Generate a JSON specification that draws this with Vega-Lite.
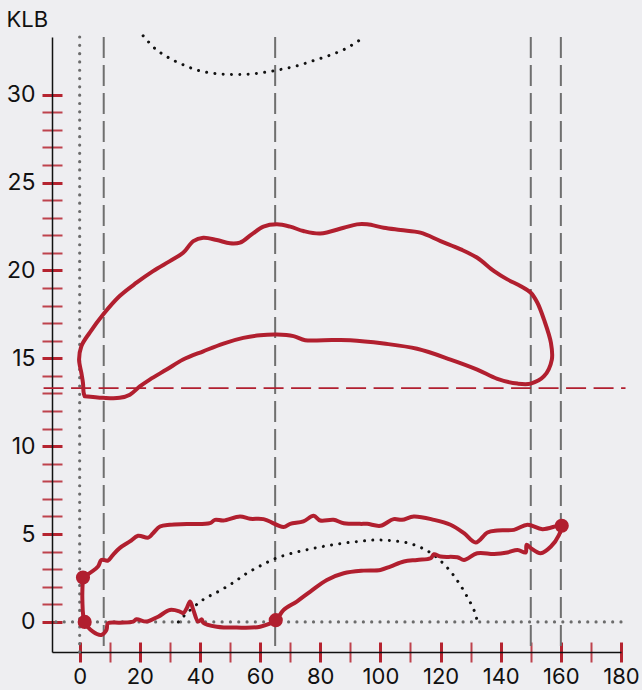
{
  "$schema": "https://vega.github.io/schema/vega-lite/v6.json",
  "width": 569,
  "height": 615,
  "autosize": {"type": "none"},
  "padding": {"left": 52, "top": 37, "right": 21, "bottom": 38},
  "background": "#eeeef1",
  "config": {"view": {"stroke": null}, "font": "Inter"},
  "datasets": {
    "vlines": [{"x": 8}, {"x": 65}, {"x": 150}, {"x": 160}],
    "zero": [{"v": 0}],
    "hline": [{"y": 13.3, "x1": -12, "x2": 181.5}],
    "dots": [
      {"s": "t", "i": 1, "x": 21.1, "y": 33.35}, {"s": "t", "i": 2, "x": 25.2, "y": 32.6}, {"s": "t", "i": 3, "x": 29.6, "y": 32.1},
      {"s": "t", "i": 4, "x": 34.4, "y": 31.7}, {"s": "t", "i": 5, "x": 39.8, "y": 31.36}, {"s": "t", "i": 6, "x": 45.2, "y": 31.2},
      {"s": "t", "i": 7, "x": 50.8, "y": 31.15}, {"s": "t", "i": 8, "x": 56.3, "y": 31.17}, {"s": "t", "i": 9, "x": 61.9, "y": 31.28},
      {"s": "t", "i": 10, "x": 67.3, "y": 31.45}, {"s": "t", "i": 11, "x": 72.7, "y": 31.66}, {"s": "t", "i": 12, "x": 78, "y": 31.95},
      {"s": "t", "i": 13, "x": 83.3, "y": 32.25}, {"s": "t", "i": 14, "x": 88.3, "y": 32.6}, {"s": "t", "i": 15, "x": 93.1, "y": 33.1},
      {"s": "b", "i": 1, "x": 32.8, "y": 0}, {"s": "b", "i": 2, "x": 35, "y": 0.4}, {"s": "b", "i": 3, "x": 41.1, "y": 1.27},
      {"s": "b", "i": 4, "x": 46.1, "y": 1.73}, {"s": "b", "i": 5, "x": 51.1, "y": 2.24}, {"s": "b", "i": 6, "x": 55.6, "y": 2.77},
      {"s": "b", "i": 7, "x": 60.6, "y": 3.24}, {"s": "b", "i": 8, "x": 65.2, "y": 3.62}, {"s": "b", "i": 9, "x": 70.6, "y": 3.91},
      {"s": "b", "i": 10, "x": 76.1, "y": 4.13}, {"s": "b", "i": 11, "x": 81.7, "y": 4.32}, {"s": "b", "i": 12, "x": 87.2, "y": 4.47},
      {"s": "b", "i": 13, "x": 92.8, "y": 4.58}, {"s": "b", "i": 14, "x": 97.8, "y": 4.66}, {"s": "b", "i": 15, "x": 103.3, "y": 4.63},
      {"s": "b", "i": 16, "x": 108.9, "y": 4.5}, {"s": "b", "i": 17, "x": 113.9, "y": 4.2}, {"s": "b", "i": 18, "x": 118.3, "y": 3.73},
      {"s": "b", "i": 19, "x": 122.8, "y": 2.98}, {"s": "b", "i": 20, "x": 126.1, "y": 2.22}, {"s": "b", "i": 21, "x": 128.9, "y": 1.42},
      {"s": "b", "i": 22, "x": 131.3, "y": 0.6}, {"s": "b", "i": 23, "x": 132.2, "y": 0.05}
    ],
    "loops": [
      {"s": "u", "i": 1, "x": 1.67, "y": 12.84}, {"s": "u", "i": 2, "x": 7.8, "y": 12.75}, {"s": "u", "i": 3, "x": 13.3, "y": 12.75},
      {"s": "u", "i": 4, "x": 16.7, "y": 12.93}, {"s": "u", "i": 5, "x": 20, "y": 13.4}, {"s": "u", "i": 6, "x": 23.3, "y": 13.79},
      {"s": "u", "i": 7, "x": 28.9, "y": 14.36}, {"s": "u", "i": 8, "x": 34.4, "y": 14.93}, {"s": "u", "i": 9, "x": 41.1, "y": 15.4},
      {"s": "u", "i": 10, "x": 47.8, "y": 15.84}, {"s": "u", "i": 11, "x": 54.4, "y": 16.16}, {"s": "u", "i": 12, "x": 60, "y": 16.31},
      {"s": "u", "i": 13, "x": 65.6, "y": 16.35}, {"s": "u", "i": 14, "x": 71.1, "y": 16.26}, {"s": "u", "i": 15, "x": 75, "y": 16.03},
      {"s": "u", "i": 16, "x": 81.1, "y": 16.03}, {"s": "u", "i": 17, "x": 90, "y": 16.03}, {"s": "u", "i": 18, "x": 101.1, "y": 15.84},
      {"s": "u", "i": 19, "x": 112.2, "y": 15.54}, {"s": "u", "i": 20, "x": 123.3, "y": 14.93}, {"s": "u", "i": 21, "x": 132.2, "y": 14.36},
      {"s": "u", "i": 22, "x": 138.9, "y": 13.83}, {"s": "u", "i": 23, "x": 145.6, "y": 13.56}, {"s": "u", "i": 24, "x": 150, "y": 13.56},
      {"s": "u", "i": 25, "x": 154.4, "y": 13.98}, {"s": "u", "i": 26, "x": 157, "y": 14.93}, {"s": "u", "i": 27, "x": 156.7, "y": 15.88},
      {"s": "u", "i": 28, "x": 154.4, "y": 17.2}, {"s": "u", "i": 29, "x": 152.2, "y": 18.16}, {"s": "u", "i": 30, "x": 150, "y": 18.73},
      {"s": "u", "i": 31, "x": 146.7, "y": 19.1}, {"s": "u", "i": 32, "x": 142.2, "y": 19.49}, {"s": "u", "i": 33, "x": 137.8, "y": 19.96},
      {"s": "u", "i": 34, "x": 132.2, "y": 20.72}, {"s": "u", "i": 35, "x": 126.7, "y": 21.2}, {"s": "u", "i": 36, "x": 120, "y": 21.67},
      {"s": "u", "i": 37, "x": 113.3, "y": 22.15}, {"s": "u", "i": 38, "x": 106.7, "y": 22.3}, {"s": "u", "i": 39, "x": 101.1, "y": 22.43},
      {"s": "u", "i": 40, "x": 95.6, "y": 22.62}, {"s": "u", "i": 41, "x": 92.2, "y": 22.62}, {"s": "u", "i": 42, "x": 87.8, "y": 22.43},
      {"s": "u", "i": 43, "x": 80, "y": 22.1}, {"s": "u", "i": 44, "x": 74.4, "y": 22.24}, {"s": "u", "i": 45, "x": 70, "y": 22.49},
      {"s": "u", "i": 46, "x": 65.6, "y": 22.62}, {"s": "u", "i": 47, "x": 61.1, "y": 22.49}, {"s": "u", "i": 48, "x": 57.2, "y": 22.05},
      {"s": "u", "i": 49, "x": 53.3, "y": 21.58}, {"s": "u", "i": 50, "x": 50, "y": 21.54}, {"s": "u", "i": 51, "x": 45.6, "y": 21.73},
      {"s": "u", "i": 52, "x": 41.1, "y": 21.86}, {"s": "u", "i": 53, "x": 37.8, "y": 21.67}, {"s": "u", "i": 54, "x": 34.4, "y": 21.0},
      {"s": "u", "i": 55, "x": 30, "y": 20.53}, {"s": "u", "i": 56, "x": 24.4, "y": 19.96}, {"s": "u", "i": 57, "x": 18.9, "y": 19.3},
      {"s": "u", "i": 58, "x": 13.3, "y": 18.54}, {"s": "u", "i": 59, "x": 7.8, "y": 17.49}, {"s": "u", "i": 60, "x": 3.3, "y": 16.45},
      {"s": "u", "i": 61, "x": 0.56, "y": 15.69}, {"s": "u", "i": 62, "x": -0.2, "y": 14.93}, {"s": "u", "i": 63, "x": 0.56, "y": 14.17},
      {"s": "u", "i": 64, "x": 1.1, "y": 13.6}, {"s": "u", "i": 65, "x": 1.33, "y": 13.03}, {"s": "u", "i": 66, "x": 1.67, "y": 12.84},

      {"s": "l", "i": 1, "x": 1.1, "y": 2.53}, {"s": "l", "i": 2, "x": 6.1, "y": 3.15}, {"s": "l", "i": 3, "x": 7.2, "y": 3.53},
      {"s": "l", "i": 4, "x": 9.4, "y": 3.49}, {"s": "l", "i": 5, "x": 11.1, "y": 3.82}, {"s": "l", "i": 6, "x": 13.3, "y": 4.2},
      {"s": "l", "i": 7, "x": 16.7, "y": 4.58}, {"s": "l", "i": 8, "x": 19.4, "y": 4.9}, {"s": "l", "i": 9, "x": 22.8, "y": 4.8},
      {"s": "l", "i": 10, "x": 24.4, "y": 5.05}, {"s": "l", "i": 11, "x": 26.7, "y": 5.43}, {"s": "l", "i": 12, "x": 30, "y": 5.53},
      {"s": "l", "i": 13, "x": 35.6, "y": 5.57}, {"s": "l", "i": 14, "x": 43.3, "y": 5.62}, {"s": "l", "i": 15, "x": 45, "y": 5.81},
      {"s": "l", "i": 16, "x": 47.8, "y": 5.77}, {"s": "l", "i": 17, "x": 53.3, "y": 6.0}, {"s": "l", "i": 18, "x": 56.7, "y": 5.87},
      {"s": "l", "i": 19, "x": 61.1, "y": 5.85}, {"s": "l", "i": 20, "x": 67.8, "y": 5.4}, {"s": "l", "i": 21, "x": 70, "y": 5.58},
      {"s": "l", "i": 22, "x": 74.4, "y": 5.72}, {"s": "l", "i": 23, "x": 77.8, "y": 6.04}, {"s": "l", "i": 24, "x": 80, "y": 5.77},
      {"s": "l", "i": 25, "x": 84.4, "y": 5.81}, {"s": "l", "i": 26, "x": 87.8, "y": 5.62}, {"s": "l", "i": 27, "x": 93.3, "y": 5.58},
      {"s": "l", "i": 28, "x": 95.6, "y": 5.58}, {"s": "l", "i": 29, "x": 100, "y": 5.47}, {"s": "l", "i": 30, "x": 104.4, "y": 5.85},
      {"s": "l", "i": 31, "x": 107.2, "y": 5.81}, {"s": "l", "i": 32, "x": 111.1, "y": 6.0}, {"s": "l", "i": 33, "x": 117.8, "y": 5.81},
      {"s": "l", "i": 34, "x": 123.3, "y": 5.53}, {"s": "l", "i": 35, "x": 127.8, "y": 5.05}, {"s": "l", "i": 36, "x": 131.7, "y": 4.52},
      {"s": "l", "i": 37, "x": 135.6, "y": 5.09}, {"s": "l", "i": 38, "x": 138.9, "y": 5.2}, {"s": "l", "i": 39, "x": 144.4, "y": 5.24},
      {"s": "l", "i": 40, "x": 148.9, "y": 5.53}, {"s": "l", "i": 41, "x": 153.9, "y": 5.28}, {"s": "l", "i": 42, "x": 160.3, "y": 5.47},
      {"s": "l", "i": 43, "x": 159.4, "y": 4.96}, {"s": "l", "i": 44, "x": 156.7, "y": 4.29}, {"s": "l", "i": 45, "x": 153.3, "y": 3.91},
      {"s": "l", "i": 46, "x": 150, "y": 4.2}, {"s": "l", "i": 47, "x": 148.6, "y": 4.39}, {"s": "l", "i": 48, "x": 148.3, "y": 3.95},
      {"s": "l", "i": 49, "x": 145.6, "y": 4.1}, {"s": "l", "i": 50, "x": 142.2, "y": 3.95}, {"s": "l", "i": 51, "x": 137.8, "y": 3.87},
      {"s": "l", "i": 52, "x": 132.2, "y": 3.91}, {"s": "l", "i": 53, "x": 127.8, "y": 3.53}, {"s": "l", "i": 54, "x": 125.6, "y": 3.68},
      {"s": "l", "i": 55, "x": 120, "y": 3.72}, {"s": "l", "i": 56, "x": 117.8, "y": 3.85}, {"s": "l", "i": 57, "x": 116.7, "y": 3.62},
      {"s": "l", "i": 58, "x": 112.2, "y": 3.53}, {"s": "l", "i": 59, "x": 107.8, "y": 3.44}, {"s": "l", "i": 60, "x": 103.3, "y": 3.15},
      {"s": "l", "i": 61, "x": 100, "y": 2.96}, {"s": "l", "i": 62, "x": 94.4, "y": 2.92}, {"s": "l", "i": 63, "x": 87.8, "y": 2.77},
      {"s": "l", "i": 64, "x": 82.2, "y": 2.39}, {"s": "l", "i": 65, "x": 76.7, "y": 1.73}, {"s": "l", "i": 66, "x": 72.2, "y": 1.16},
      {"s": "l", "i": 67, "x": 67.8, "y": 0.68}, {"s": "l", "i": 68, "x": 65.2, "y": 0.1}, {"s": "l", "i": 69, "x": 60, "y": -0.27},
      {"s": "l", "i": 70, "x": 52.2, "y": -0.32}, {"s": "l", "i": 71, "x": 45.6, "y": -0.27}, {"s": "l", "i": 72, "x": 41.1, "y": -0.04},
      {"s": "l", "i": 73, "x": 40.6, "y": 0.15}, {"s": "l", "i": 74, "x": 39.4, "y": 0.02}, {"s": "l", "i": 75, "x": 37.8, "y": 0.68},
      {"s": "l", "i": 76, "x": 36.7, "y": 1.16}, {"s": "l", "i": 77, "x": 35.6, "y": 0.78}, {"s": "l", "i": 78, "x": 34.4, "y": 0.5},
      {"s": "l", "i": 79, "x": 33.3, "y": 0.59}, {"s": "l", "i": 80, "x": 30, "y": 0.68}, {"s": "l", "i": 81, "x": 26.1, "y": 0.3},
      {"s": "l", "i": 82, "x": 22.2, "y": 0.02}, {"s": "l", "i": 83, "x": 18.9, "y": 0.15}, {"s": "l", "i": 84, "x": 17.8, "y": 0.02},
      {"s": "l", "i": 85, "x": 13.3, "y": -0.04}, {"s": "l", "i": 86, "x": 9.4, "y": -0.08}, {"s": "l", "i": 87, "x": 8.9, "y": -0.46},
      {"s": "l", "i": 88, "x": 7.2, "y": -0.74}, {"s": "l", "i": 89, "x": 4.4, "y": -0.55}, {"s": "l", "i": 90, "x": 1.67, "y": 0},
      {"s": "l", "i": 91, "x": 0.9, "y": 1.25}, {"s": "l", "i": 92, "x": 1.1, "y": 2.53}
    ],
    "points": [{"x": 1.1, "y": 2.53}, {"x": 1.67, "y": 0}, {"x": 65.2, "y": 0.1}, {"x": 160.3, "y": 5.47}]
  },
  "layer": [
    {
      "data": {"name": "zero"},
      "mark": {"type": "rule", "color": "#6c6c6c", "strokeWidth": 3.2, "strokeDash": [0.01, 8.3], "strokeCap": "round"},
      "encoding": {"x": {"field": "v", "type": "quantitative", "scale": {"domain": [-9.2, 180], "nice": false, "zero": false}, "axis": null}}
    },
    {
      "data": {"name": "zero"},
      "mark": {"type": "rule", "color": "#6c6c6c", "strokeWidth": 3.2, "strokeDash": [0.01, 8.3], "strokeCap": "round"},
      "encoding": {"y": {"field": "v", "type": "quantitative", "scale": {"domain": [-1.71, 33.28], "nice": false, "zero": false}, "axis": null}}
    },
    {
      "data": {"name": "vlines"},
      "mark": {"type": "rule", "color": "#6f6f6f", "strokeWidth": 2, "strokeDash": [21, 7]},
      "encoding": {"x": {"field": "x", "type": "quantitative", "axis": null}}
    },
    {
      "data": {"name": "hline"},
      "mark": {"type": "rule", "color": "#b11f2f", "strokeWidth": 1.8, "strokeDash": [20, 7.5]},
      "encoding": {
        "y": {"field": "y", "type": "quantitative", "axis": null},
        "x": {"field": "x1", "type": "quantitative", "axis": null},
        "x2": {"field": "x2"}
      }
    },
    {
      "data": {"name": "dots"},
      "mark": {"type": "line", "color": "#111111", "strokeWidth": 3, "strokeDash": [0.01, 8.3], "strokeCap": "round", "interpolate": "catmull-rom"},
      "encoding": {
        "x": {"field": "x", "type": "quantitative", "axis": null},
        "y": {"field": "y", "type": "quantitative", "axis": null},
        "detail": {"field": "s"},
        "order": {"field": "i", "type": "quantitative"}
      }
    },
    {
      "data": {"name": "loops"},
      "mark": {"type": "line", "color": "#b11f2f", "strokeWidth": 4, "strokeJoin": "round", "strokeCap": "round", "interpolate": "catmull-rom"},
      "encoding": {
        "x": {"field": "x", "type": "quantitative", "axis": {
          "orient": "bottom", "offset": -10, "domain": false, "grid": false, "title": null,
          "values": [0, 10, 20, 30, 40, 50, 60, 70, 80, 90, 100, 110, 120, 130, 140, 150, 160, 170, 180],
          "tickSize": 20, "tickColor": "#b52430",
          "tickWidth": {"condition": {"test": "datum.value % 20 === 0", "value": 3}, "value": 2},
          "tickOpacity": {"condition": {"test": "datum.value % 20 === 0", "value": 1}, "value": 0.85},
          "labelExpr": "datum.value % 20 === 0 ? datum.label : ''",
          "labelFontSize": 22, "labelPadding": 4, "labelColor": "#111111", "labelFlush": false, "labelOverlap": false
        }},
        "y": {"field": "y", "type": "quantitative", "axis": {
          "orient": "left", "offset": -10, "domain": false, "grid": false, "title": null,
          "values": [0, 1, 2, 3, 4, 5, 6, 7, 8, 9, 10, 11, 12, 13, 14, 15, 16, 17, 18, 19, 20, 21, 22, 23, 24, 25, 26, 27, 28, 29, 30],
          "tickSize": 20, "tickColor": "#b52430",
          "tickWidth": {"condition": {"test": "datum.value % 5 === 0", "value": 3}, "value": 2},
          "tickOpacity": {"condition": {"test": "datum.value % 5 === 0", "value": 1}, "value": 0.85},
          "labelExpr": "datum.value % 5 === 0 ? datum.label : ''",
          "labelFontSize": 23, "labelPadding": 7, "labelColor": "#111111", "labelFlush": false, "labelOverlap": false
        }},
        "detail": {"field": "s"},
        "order": {"field": "i", "type": "quantitative"}
      }
    },
    {
      "data": {"name": "points"},
      "mark": {"type": "circle", "color": "#b11f2f", "size": 200, "opacity": 1},
      "encoding": {
        "x": {"field": "x", "type": "quantitative", "axis": {
          "orient": "bottom", "domain": true, "domainColor": "#111111", "domainWidth": 1.5,
          "ticks": false, "labels": false, "grid": false, "title": null
        }},
        "y": {"field": "y", "type": "quantitative", "axis": {
          "orient": "left", "domain": true, "domainColor": "#111111", "domainWidth": 1.5,
          "ticks": false, "labels": false, "grid": false,
          "title": "KLB", "titleAngle": 0, "titleX": -46, "titleY": -18, "titleAlign": "left", "titleBaseline": "middle",
          "titleFontSize": 22, "titleFontWeight": "normal", "titleColor": "#111111"
        }}
      }
    }
  ],
  "resolve": {"axis": {"x": "independent", "y": "independent"}}
}
